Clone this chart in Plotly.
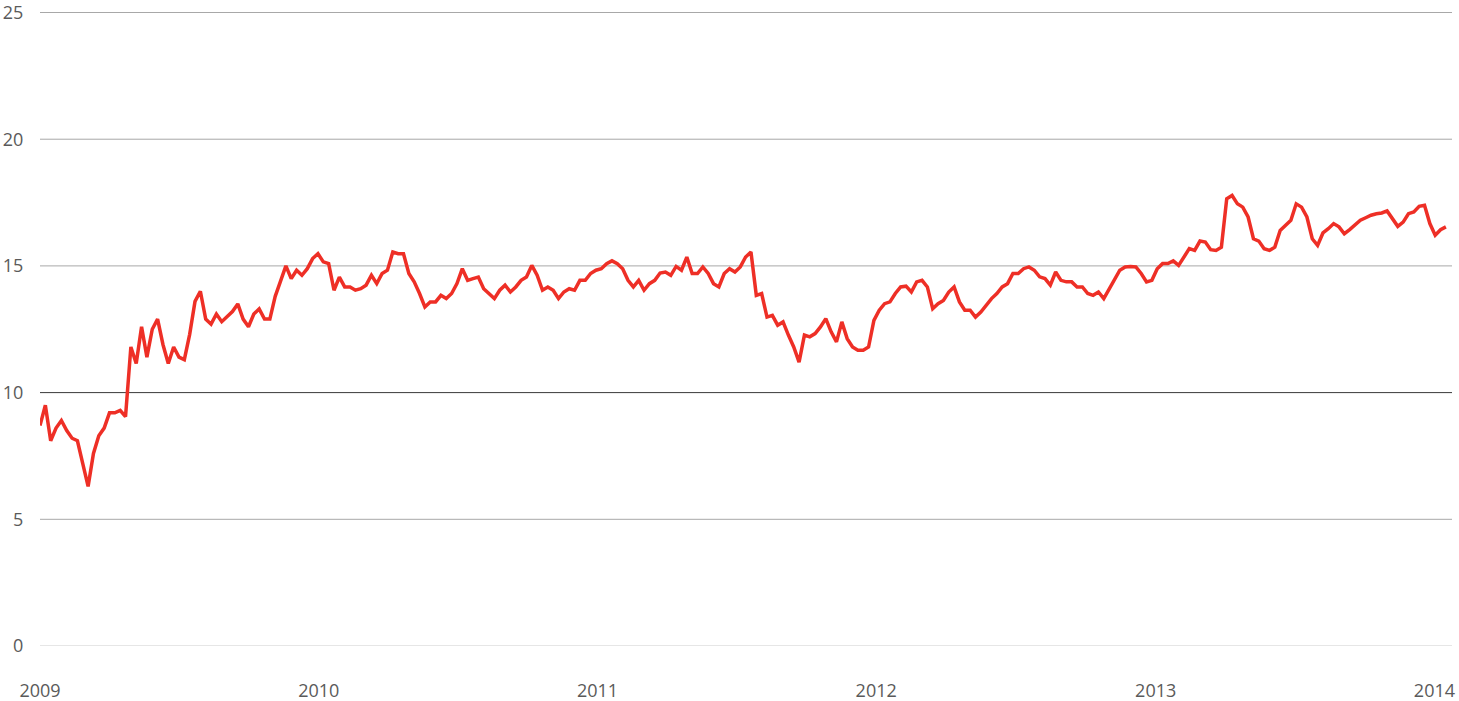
import pandas as pd
import plotly.graph_objects as go

# weekly readings, starting 2009-01-01
start_date = "2009-01-01"
values = [
    8.7, 9.5, 8.1, 8.6, 8.9, 8.5, 8.2, 8.1, 7.2, 6.3, 7.6, 8.3, 8.6, 9.2, 9.2, 9.3,
    9.05, 11.8, 11.15, 12.6, 11.4, 12.5, 12.9, 11.9, 11.15, 11.8, 11.4, 11.3, 12.3,
    13.6, 14.0, 12.9, 12.7, 13.1, 12.8, 13.0, 13.2, 13.5, 12.9, 12.6, 13.1, 13.3,
    12.9, 12.9, 13.8, 14.4,
    15.0, 14.5, 14.83, 14.63, 14.89, 15.29, 15.48, 15.16, 15.09, 14.04, 14.56, 14.17,
    14.17, 14.04, 14.1, 14.24, 14.63, 14.3, 14.7, 14.83, 15.55, 15.48, 15.48, 14.7,
    14.37, 13.91, 13.38, 13.58, 13.58, 13.84, 13.71, 13.91, 14.3, 14.89, 14.43, 14.5,
    14.56, 14.1, 13.91, 13.71, 14.04, 14.24, 13.97,
    14.17, 14.43, 14.56, 15.02, 14.63, 14.04, 14.17, 14.04, 13.71, 13.97, 14.1, 14.04,
    14.43, 14.43, 14.7, 14.83, 14.89, 15.09, 15.2, 15.09, 14.89, 14.43, 14.17, 14.43,
    14.04, 14.3, 14.43, 14.72, 14.76, 14.63, 14.98, 14.83, 15.35, 14.7, 14.7, 14.96,
    14.7, 14.3, 14.17, 14.7, 14.89, 14.76, 14.96, 15.35, 15.55,
    13.84, 13.91, 12.98, 13.05, 12.66, 12.79, 12.27, 11.8, 11.2, 12.27, 12.2, 12.33,
    12.59, 12.92, 12.4, 12.0, 12.79, 12.13, 11.8, 11.67, 11.67, 11.8, 12.85, 13.25,
    13.51, 13.58, 13.91, 14.17, 14.2, 13.97, 14.37, 14.43, 14.17, 13.31, 13.51, 13.64,
    13.97, 14.17, 13.58, 13.25, 13.25, 12.98, 13.18, 13.44, 13.71,
    13.91, 14.17, 14.3, 14.7, 14.7, 14.89, 14.96, 14.83, 14.57, 14.5, 14.24, 14.76,
    14.43, 14.37, 14.37, 14.17, 14.17, 13.91, 13.84, 13.97, 13.71, 14.1, 14.5, 14.83,
    14.96, 14.98, 14.96, 14.7, 14.37, 14.43, 14.89, 15.09, 15.09, 15.2, 15.02, 15.35,
    15.68, 15.61, 15.98, 15.94,
    15.64, 15.61, 15.74, 17.65, 17.78, 17.45, 17.32, 16.93, 16.07, 15.98, 15.68, 15.61,
    15.74, 16.4, 16.6, 16.8, 17.45, 17.32, 16.93, 16.07, 15.81, 16.3, 16.47, 16.67,
    16.54, 16.27, 16.43, 16.6, 16.8, 16.9, 17.0, 17.06, 17.09, 17.17, 16.86, 16.56,
    16.73, 17.06, 17.13, 17.35, 17.39, 16.67, 16.21, 16.43, 16.54,
]
dates = pd.date_range(start=start_date, periods=len(values), freq="7D")

year_ticks = ["2009-01-01", "2010-01-01", "2011-01-01", "2012-01-01", "2013-01-01", "2014-01-01"]
year_labels = ["2009", "2010", "2011", "2012", "2013", "2014"]
y_ticks = [0, 5, 10, 15, 20, 25]
grid_colors = ["#cccccc", "#a8a8a8", "#3a3a3a", "#a8a8a8", "#a8a8a8", "#a8a8a8"]

fig = go.Figure()

# horizontal grid, the one at 10 drawn darker
for tick, color in zip(y_ticks, grid_colors):
    fig.add_hline(y=tick, line=dict(color=color, width=1), layer="below")

fig.add_trace(
    go.Scatter(
        x=dates,
        y=values,
        mode="lines",
        line=dict(color="#ee2f26", width=3.5),
        hoverinfo="x+y",
    )
)

fig.update_layout(
    width=1459,
    height=701,
    margin=dict(l=40, r=7, t=12, b=55),
    paper_bgcolor="white",
    plot_bgcolor="white",
    showlegend=False,
    font=dict(family="Open Sans", size=18, color="#5a5a5a"),
    xaxis=dict(
        range=["2009-01-01", "2014-01-24"],
        tickvals=year_ticks,
        ticktext=year_labels,
        showgrid=False,
        zeroline=False,
        showline=False,
        ticks="outside",
        ticklen=28,
        tickcolor="rgba(0,0,0,0)",
        automargin=False,
        ticklabeloverflow="allow",
    ),
    yaxis=dict(
        range=[0, 25.02],
        tickvals=y_ticks,
        showgrid=False,
        zeroline=False,
        showline=False,
        ticks="outside",
        ticklen=12,
        tickcolor="rgba(0,0,0,0)",
        automargin=False,
        ticklabeloverflow="allow",
    ),
)

# drop the page's default body margin so the figure sits at the top-left corner
fig.write_html(
    "out.html",
    config={"displayModeBar": False},
    post_script="document.body.style.margin = '0';",
)
